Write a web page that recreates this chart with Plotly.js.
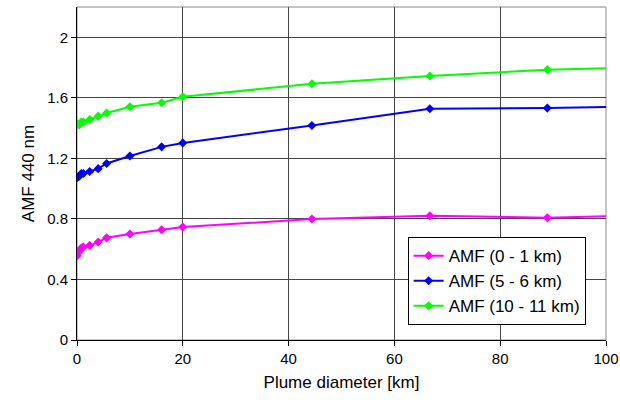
<!DOCTYPE html>
<html>
<head>
<meta charset="utf-8">
<script src="https://cdn.plot.ly/plotly-3.0.1.min.js"></script>
<style>
  html, body { margin: 0; padding: 0; background: #fff; }
  #chart { width: 620px; height: 400px; }
</style>
</head>
<body>
<div id="chart"></div>
<script>
// Plume diameter [km]; the last sample lies past the axis end and is clipped
const diameter = [0, 0.4, 0.8, 1.2, 2.4, 4, 5.6, 10, 16, 20, 44.4, 66.7, 88.9, 111.1];

// Air mass factors at 440 nm for three plume altitude layers
const amfLow  = [0.556, 0.585, 0.607, 0.614, 0.625, 0.647, 0.675, 0.700, 0.728, 0.746, 0.799, 0.821, 0.808, 0.826];
const amfMid  = [1.071, 1.082, 1.099, 1.100, 1.113, 1.132, 1.166, 1.216, 1.276, 1.302, 1.417, 1.528, 1.532, 1.546];
const amfHigh = [1.430, 1.420, 1.440, 1.440, 1.457, 1.479, 1.500, 1.541, 1.567, 1.607, 1.693, 1.744, 1.786, 1.804];

const seriesNames = ['AMF (0 - 1 km)', 'AMF (5 - 6 km)', 'AMF (10 - 11 km)'];
const seriesColors = ['#ff00ff', '#0000ff', '#00ff00'];
const yTicks = [0, 0.4, 0.8, 1.2, 1.6, 2];
const xTicks = [0, 20, 40, 60, 80, 100];

const font = 'Liberation Sans, Arial, sans-serif';

const traces = [amfLow, amfMid, amfHigh].map((ys, i) => ({
  x: diameter,
  y: ys,
  name: seriesNames[i],
  type: 'scatter',
  mode: 'lines+markers',
  line: { color: seriesColors[i], width: 2 },
  marker: { symbol: 'diamond', size: 7, color: seriesColors[i] },
  cliponaxis: true
}));

const layout = {
  width: 620,
  height: 400,
  margin: { l: 77, r: 14, t: 7, b: 60 },
  paper_bgcolor: '#fff',
  plot_bgcolor: '#fff',
  font: { family: font, size: 15, color: '#000' },
  showlegend: true,
  legend: {
    x: 0.625, y: 0.309, xanchor: 'left', yanchor: 'top',
    bgcolor: '#fff', bordercolor: '#000', borderwidth: 1,
    font: { family: font, size: 17, color: '#000' },
    itemwidth: 30, tracegroupgap: 0
  },
  xaxis: {
    range: [0, 100],
    tickvals: xTicks,
    ticktext: xTicks.map(String),
    showgrid: true, gridcolor: '#444', gridwidth: 1,
    showline: true, linecolor: '#000', linewidth: 1,
    ticks: 'outside', ticklen: 5, tickcolor: '#000',
    zeroline: false,
    tickfont: { family: font, size: 15 },
    title: { text: 'Plume diameter [km]', font: { family: font, size: 17 }, standoff: 10 }
  },
  yaxis: {
    range: [0, 2.2],
    tickvals: yTicks,
    ticktext: yTicks.map(String),
    showgrid: true, gridcolor: '#444', gridwidth: 1,
    showline: true, linecolor: '#000', linewidth: 1,
    ticks: 'outside', ticklen: 5, tickcolor: '#000',
    zeroline: false,
    tickfont: { family: font, size: 15 },
    title: { text: 'AMF 440 nm', font: { family: font, size: 17 }, standoff: 8 }
  },
  shapes: [{
    type: 'rect', xref: 'paper', yref: 'paper', x0: 0, x1: 1, y0: 0, y1: 1,
    line: { color: '#888', width: 1 }, layer: 'below'
  }]
};

Plotly.newPlot('chart', traces, layout, { displayModeBar: false, staticPlot: true });
</script>
</body>
</html>
